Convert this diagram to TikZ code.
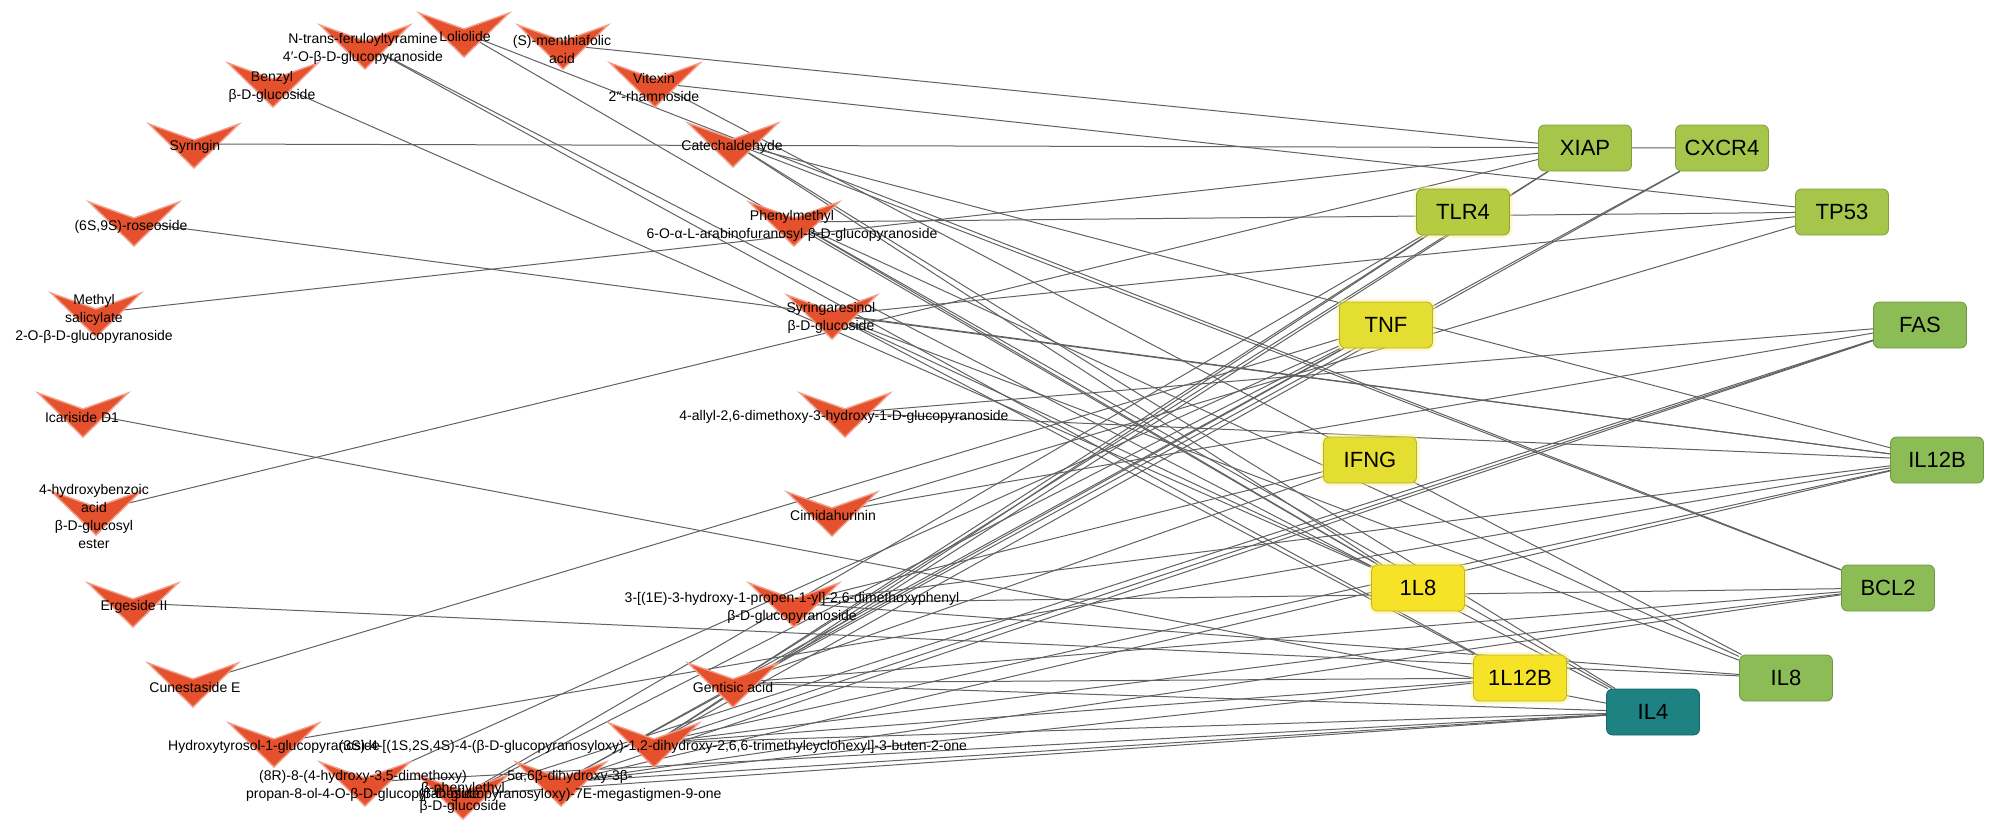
\documentclass[tikz,border=0pt]{standalone}
\usepackage{fontspec}
\setmainfont{Liberation Sans}
\usetikzlibrary{positioning}
\pgfdeclarelayer{edges}
\pgfsetlayers{edges,main}
\definecolor{chev}{RGB}{229,81,44}
\definecolor{lime}{RGB}{165,197,75}
\definecolor{limey}{RGB}{180,203,66}
\definecolor{leaf}{RGB}{140,188,85}
\definecolor{gold}{RGB}{228,222,50}
\definecolor{sun}{RGB}{246,227,40}
\definecolor{tealg}{RGB}{30,130,130}
\tikzstyle{gene}=[rounded corners=3pt,minimum width=46.5pt,minimum height=23pt,inner sep=0pt,font=\fontsize{11}{13}\selectfont]
\tikzstyle{glow}=[preaction={draw=sun!50!white,line width=3pt,opacity=.45}]
\tikzstyle{lbl}=[align=center,inner sep=0pt,font=\fontsize{7}{9}\selectfont]
\tikzstyle{link}=[black!62,line width=.5pt]
\tikzstyle{comp}=[fill=chev,draw=chev!55!white,line width=.7pt]

\begin{document}
\begin{tikzpicture}[x=.5pt,y=-.5pt]
\useasboundingbox (0,0) rectangle (2000,837);

% targets
\node[gene,fill=lime,draw=lime!80!black] (xiap) at (1585,148) {XIAP};
\node[gene,fill=lime,draw=lime!80!black] (cxcr4) at (1722,148) {CXCR4};
\node[gene,fill=limey,draw=limey!80!black,glow] (tlr4) at (1463,212) {TLR4};
\node[gene,fill=lime,draw=lime!80!black] (tp53) at (1842,212) {TP53};
\node[gene,fill=gold,draw=gold!80!black,glow] (tnf) at (1386,325) {TNF};
\node[gene,fill=leaf,draw=leaf!80!black] (fas) at (1920,325) {FAS};
\node[gene,fill=gold,draw=gold!80!black,glow] (ifng) at (1370,460) {IFNG};
\node[gene,fill=leaf,draw=leaf!80!black] (il12b) at (1937,460) {IL12B};
\node[gene,fill=sun,draw=sun!80!black,glow] (l8) at (1418,588) {1L8};
\node[gene,fill=leaf,draw=leaf!80!black] (bcl2) at (1888,588) {BCL2};
\node[gene,fill=sun,draw=sun!80!black,glow] (l12b) at (1520,678) {1L12B};
\node[gene,fill=leaf,draw=leaf!80!black] (il8) at (1786,678) {IL8};
\node[gene,fill=tealg,draw=tealg!80!black] (il4) at (1653,712) {IL4};

% compounds
\foreach \n/\x/\y in {ntrans/365/25, lolio/464/13, menth/563/25, benzyl/273/63,
    vitexin/655/63, syringin/194/124, catech/733/123, roseo/134/202, phenylm/794/202,
    methyl/96/293, syrgres/832/295, icar/83/393, allyl/845/393, hbenz/96/491,
    cimid/832/492, erge/133/583, hprop/794/583, cunes/193/663, gentis/733/663,
    hytyr/274/723, buten/654/723, dim8r/365/762, pheneth/463/775, megast/561/762} {
  \filldraw[comp] (\x-45,\y) -- (\x,\y+16) -- (\x+45,\y) -- (\x,\y+44) -- cycle;
  \coordinate (\n) at (\x,\y+20);
}

% compound names
\node[lbl] (ntrans-t) at (363,49) {N-trans-feruloyltyramine\\4′-O-β-D-glucopyranoside};
\node[lbl] (lolio-t) at (465,36) {Loliolide};
\node[lbl] (menth-t) at (562,49) {(S)-menthiafolic\\acid};
\node[lbl] (benzyl-t) at (272,87) {Benzyl\\β-D-glucoside};
\node[lbl] (vitexin-t) at (654,87) {Vitexin\\2″-rhamnoside};
\node[lbl] (syringin-t) at (195,147) {Syringin};
\node[lbl] (catech-t) at (732,147) {Catechaldehyde};
\node[lbl] (roseo-t) at (131,227) {(6S,9S)-roseoside};
\node[lbl] (phenylm-t) at (792,226) {Phenylmethyl\\6-O-α-L-arabinofuranosyl-β-D-glucopyranoside};
\node[lbl] (methyl-t) at (94,319) {Methyl\\salicylate\\2-O-β-D-glucopyranoside};
\node[lbl] (syrgres-t) at (831,318) {Syringaresinol\\β-D-glucoside};
\node[lbl] (icar-t) at (82,417) {Icariside D1};
\node[lbl] (allyl-t) at (844,417) {4-allyl-2,6-dimethoxy-3-hydroxy-1-D-glucopyranoside};
\node[lbl] (hbenz-t) at (94,516) {4-hydroxybenzoic\\acid\\β-D-glucosyl\\ester};
\node[lbl] (cimid-t) at (833,515) {Cimidahurinin};
\node[lbl] (erge-t) at (134,607) {Ergeside II};
\node[lbl] (hprop-t) at (792,608) {3-[(1E)-3-hydroxy-1-propen-1-yl]-2,6-dimethoxyphenyl\\β-D-glucopyranoside};
\node[lbl] (cunes-t) at (195,687) {Cunestaside E};
\node[lbl] (gentis-t) at (733,687) {Gentisic acid};
\node[lbl] (hytyr-t) at (274,747) {Hydroxytyrosol-1-glucopyranoside};
\node[lbl] (buten-t) at (653,747) {(3S)-4-[(1S,2S,4S)-4-(β-D-glucopyranosyloxy)-1,2-dihydroxy-2,6,6-trimethylcyclohexyl]-3-buten-2-one};
\node[lbl] (dim8r-t) at (363,786) {(8R)-8-(4-hydroxy-3,5-dimethoxy)\\propan-8-ol-4-O-β-D-glucopyranoside};
\node[lbl] (megast-t) at (570,786) {5α,6β-dihydroxy-3β-\\(β-D-glucopyranosyloxy)-7E-megastigmen-9-one};
\node[lbl] (pheneth-t) at (463,798) {β-phenylethyl\\β-D-glucoside};

% compound-target links
\begin{pgfonlayer}{edges}
\foreach \a/\b in {menth/xiap, methyl/xiap, hbenz/xiap, gentis/xiap, buten/xiap,
    syringin/cxcr4, buten/cxcr4, megast/cxcr4,
    gentis/tlr4, buten/tlr4, pheneth/tlr4,
    vitexin/tp53, phenylm/tp53, syrgres/tp53, cimid/tp53,
    cunes/tnf, gentis/tnf, pheneth/tnf, dim8r/tnf, megast/tnf,
    allyl/fas, cimid/fas, buten/fas, megast/fas, pheneth/fas,
    hprop/ifng, gentis/ifng,
    roseo/il12b, catech/il12b, allyl/il12b, syrgres/il12b, hprop/il12b, hytyr/il12b, megast/il12b, buten/il12b,
    lolio/l8, benzyl/l8, catech/l8, phenylm/l8, syrgres/l8,
    lolio/bcl2, catech/bcl2, hprop/bcl2, gentis/bcl2, buten/bcl2, megast/bcl2,
    ntrans/l12b, syrgres/l12b, gentis/l12b, buten/l12b, megast/l12b,
    vitexin/il8, phenylm/il8, syrgres/il8, erge/il8, hprop/il8,
    ntrans/il4, catech/il4, phenylm/il4, icar/il4, gentis/il4, buten/il4, megast/il4, pheneth/il4, dim8r/il4}
  \draw[link] (\a) -- (\b);
\end{pgfonlayer}
\end{tikzpicture}
\end{document}
